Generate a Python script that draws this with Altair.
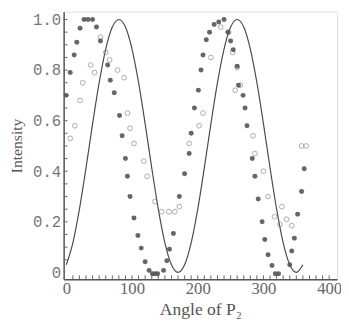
import altair as alt
import pandas as pd

# Solid theoretical curve (every 10 degrees)
curve_angle = list(range(0, 370, 10))
curve_int = [0.03, 0.117, 0.25, 0.413, 0.587, 0.75, 0.883, 0.97, 1.0, 0.97,
             0.883, 0.75, 0.587, 0.413, 0.25, 0.117, 0.03, 0.0, 0.03, 0.117,
             0.25, 0.413, 0.587, 0.75, 0.883, 0.97, 1.0, 0.97, 0.883, 0.75,
             0.587, 0.413, 0.25, 0.117, 0.03, 0.0, 0.03]

# Filled circles
filled_angle = [0, 6, 12, 16, 21, 27, 33, 40, 46, 52, 63, 67, 73, 81, 85, 90, 93, 97,
                103, 109, 114, 120, 126, 131, 135, 139, 148, 153, 157, 163, 172, 180,
                187, 190, 195, 201, 205, 208, 213, 218, 225, 232, 240, 246, 250, 254,
                260, 262, 269, 272, 275, 283, 287, 292, 298, 302, 307, 313, 318, 323,
                340, 343, 347, 352, 358, 362]
filled_int = [0.70, 0.79, 0.86, 0.91, 0.965, 1.0, 1.0, 1.0, 0.97, 0.915, 0.82, 0.76,
              0.71, 0.62, 0.54, 0.45, 0.38, 0.30, 0.215, 0.146, 0.096, 0.042, 0.008,
              -0.005, -0.005, -0.005, 0.008, 0.046, 0.092, 0.154, 0.30, 0.39, 0.47,
              0.55, 0.65, 0.72, 0.80, 0.86, 0.92, 0.95, 0.98, 0.99, 1.0, 0.95, 0.915,
              0.88, 0.815, 0.74, 0.70, 0.65, 0.58, 0.45, 0.38, 0.29, 0.20, 0.13, 0.07,
              0.027, -0.005, -0.005, 0.03, 0.085, 0.135, 0.23, 0.32, 0.41]

# Open circles
open_angle = [6, 13, 21, 25, 37, 43, 52, 60, 66, 78, 88, 93, 97, 103, 118, 123, 135,
              145, 156, 165, 172, 187, 202, 208, 220, 235, 247, 253, 257, 260, 265,
              284, 287, 300, 307, 317, 325, 328, 335, 343, 358, 365]
open_int = [0.53, 0.58, 0.68, 0.75, 0.82, 0.79, 0.93, 0.87, 0.84, 0.80, 0.77, 0.63,
            0.57, 0.51, 0.44, 0.38, 0.28, 0.24, 0.24, 0.24, 0.26, 0.51, 0.58, 0.63,
            0.85, 0.97, 0.95, 0.87, 0.72, 0.81, 0.74, 0.54, 0.47, 0.40, 0.30, 0.22,
            0.19, 0.26, 0.21, 0.185, 0.50, 0.50]

x_ticks = [0, 100, 200, 300, 400]
y_ticks = [0, 0.2, 0.4, 0.6, 0.8, 1.0]
x_minor = list(range(10, 410, 10))
y_minor = [round(v * 0.05, 2) for v in range(1, 21)]

curve_df = pd.DataFrame({"angle": curve_angle, "intensity": curve_int})
filled_df = pd.DataFrame({"angle": filled_angle, "intensity": filled_int})
open_df = pd.DataFrame({"angle": open_angle, "intensity": open_int})
xminor_df = pd.DataFrame({"angle": x_minor})
yminor_df = pd.DataFrame({"intensity": y_minor})

xs = alt.Scale(domain=[-4, 412], nice=False, zero=False)
ys = alt.Scale(domain=[-0.027, 1.031], nice=False, zero=False)

x_axis = alt.Axis(values=x_ticks, title="Angle of P\u2082", tickSize=0, grid=False,
                  labelFont="Liberation Serif", labelFontSize=17, labelColor="#666",
                  labelPadding=2, titleFont="Liberation Serif", titleFontSize=18,
                  titleFontWeight="normal", titleColor="#555", titlePadding=4,
                  domainColor="#555", domainWidth=1.5)
y_axis = alt.Axis(values=y_ticks, title="Intensity", tickSize=0, grid=False,
                  labelExpr="datum.value == 0 ? '0' : format(datum.value, '.1f')",
                  labelFont="Liberation Mono", labelFontSize=16, labelColor="#777",
                  labelPadding=3, titleFont="Liberation Serif", titleFontSize=16,
                  titleFontWeight="normal", titleColor="#555", titlePadding=8,
                  domainColor="#555", domainWidth=1.5)

line = alt.Chart(curve_df).mark_line(color="#4a4a4a", strokeWidth=1.2,
                                     interpolate="monotone").encode(
    x=alt.X("angle:Q", scale=xs, axis=x_axis),
    y=alt.Y("intensity:Q", scale=ys, axis=y_axis),
)

filled = alt.Chart(filled_df).mark_circle(color="#555", size=26, opacity=0.9).encode(
    x=alt.X("angle:Q", scale=xs),
    y=alt.Y("intensity:Q", scale=ys),
)

openc = alt.Chart(open_df).mark_point(shape="circle", filled=False, color="#888",
                                      size=24, strokeWidth=1).encode(
    x=alt.X("angle:Q", scale=xs),
    y=alt.Y("intensity:Q", scale=ys),
)

xt = alt.Chart(xminor_df).mark_rule(color="#666", strokeWidth=1).encode(
    x=alt.X("angle:Q", scale=xs),
    y=alt.value(274),
    y2=alt.value(270),
)
yt = alt.Chart(yminor_df).mark_rule(color="#666", strokeWidth=1).encode(
    y=alt.Y("intensity:Q", scale=ys),
    x=alt.value(0),
    x2=alt.value(4),
)

chart = alt.layer(xt, yt, line, openc, filled).properties(
    width=280, height=274,
    autosize=alt.AutoSizeParams(type="none"),
    padding={"left": 57, "top": 0, "right": 4, "bottom": 38},
).configure_view(stroke="#555", strokeWidth=1.5).configure(background="white")

chart.save("out.html", embed_options={"renderer": "svg", "actions": False})
